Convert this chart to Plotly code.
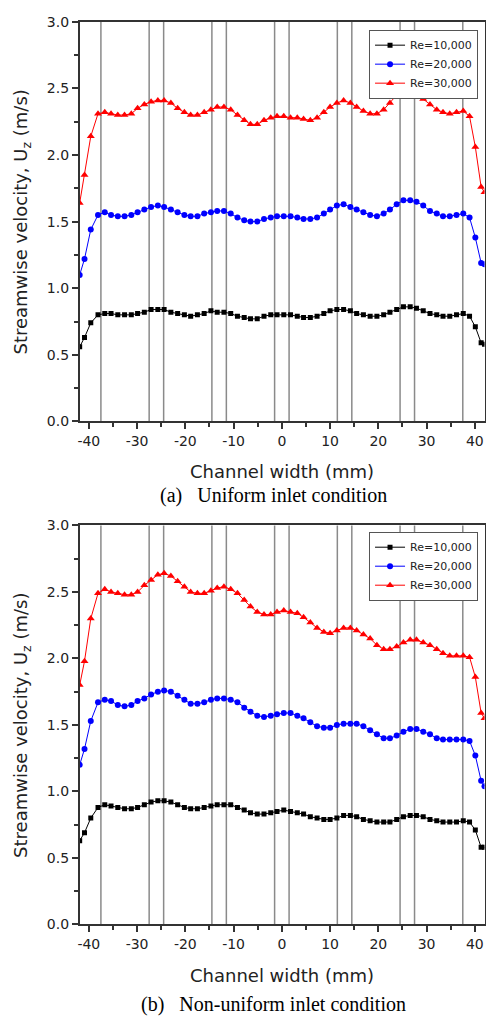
import plotly.graph_objects as go

# ---------------- data ----------------
x_mm = [-41.9, -40.9, -39.6,
        -38.1, -36.7, -35.4, -34.0, -32.6, -31.2, -29.9, -28.5, -27.1, -25.7,
        -24.4, -23.0, -21.6, -20.2, -18.9, -17.5, -16.1, -14.7, -13.4, -12.0,
        -10.6, -9.2, -7.8, -6.5, -5.1, -3.7, -2.3, -1.0, 0.4, 1.8,
        3.2, 4.5, 5.9, 7.3, 8.7, 10.0, 11.4, 12.8, 14.2, 15.5,
        16.9, 18.3, 19.7, 21.1, 22.4, 23.8, 25.2, 26.6, 27.9, 29.3,
        30.7, 32.1, 33.4, 34.8, 36.2, 37.6, 38.9,
        40.1, 41.3, 42.0]

# (a) uniform inlet
uni_re10k = [0.56, 0.63, 0.74,
             0.80, 0.81, 0.81, 0.80, 0.80, 0.80, 0.81, 0.82, 0.84, 0.84,
             0.84, 0.82, 0.81, 0.80, 0.79, 0.80, 0.81, 0.83, 0.82, 0.82,
             0.81, 0.79, 0.78, 0.77, 0.77, 0.79, 0.80, 0.80, 0.80, 0.80,
             0.79, 0.78, 0.78, 0.79, 0.81, 0.83, 0.84, 0.84, 0.83, 0.81,
             0.80, 0.79, 0.79, 0.80, 0.82, 0.84, 0.86, 0.86, 0.85, 0.83,
             0.81, 0.80, 0.79, 0.79, 0.80, 0.81, 0.79,
             0.71, 0.59, 0.58]
uni_re20k = [1.10, 1.22, 1.44,
             1.55, 1.57, 1.55, 1.54, 1.54, 1.55, 1.57, 1.59, 1.61, 1.62,
             1.61, 1.59, 1.57, 1.55, 1.54, 1.54, 1.56, 1.57, 1.58, 1.58,
             1.56, 1.53, 1.51, 1.50, 1.50, 1.52, 1.53, 1.54, 1.54, 1.54,
             1.53, 1.52, 1.52, 1.53, 1.56, 1.59, 1.62, 1.63, 1.61, 1.59,
             1.57, 1.55, 1.54, 1.56, 1.59, 1.63, 1.66, 1.66, 1.65, 1.62,
             1.58, 1.56, 1.54, 1.54, 1.55, 1.56, 1.53,
             1.38, 1.19, 1.18]
uni_re30k = [1.64, 1.85, 2.14,
             2.31, 2.32, 2.31, 2.30, 2.30, 2.31, 2.35, 2.38, 2.40, 2.41,
             2.41, 2.39, 2.35, 2.32, 2.30, 2.30, 2.32, 2.34, 2.36, 2.36,
             2.34, 2.30, 2.26, 2.23, 2.23, 2.26, 2.28, 2.29, 2.29, 2.28,
             2.28, 2.27, 2.26, 2.28, 2.32, 2.36, 2.39, 2.41, 2.39, 2.36,
             2.33, 2.31, 2.31, 2.34, 2.39, 2.45, 2.48, 2.49, 2.47, 2.42,
             2.38, 2.34, 2.32, 2.31, 2.32, 2.33, 2.29,
             2.06, 1.76, 1.72]

# (b) non-uniform inlet
non_re10k = [0.63, 0.69, 0.80,
             0.88, 0.90, 0.89, 0.88, 0.87, 0.87, 0.88, 0.90, 0.92, 0.93,
             0.93, 0.92, 0.90, 0.88, 0.87, 0.87, 0.88, 0.89, 0.90, 0.90,
             0.90, 0.88, 0.86, 0.84, 0.83, 0.83, 0.84, 0.85, 0.86, 0.85,
             0.84, 0.83, 0.81, 0.80, 0.79, 0.79, 0.80, 0.82, 0.82, 0.81,
             0.79, 0.78, 0.77, 0.77, 0.77, 0.79, 0.81, 0.82, 0.82, 0.81,
             0.79, 0.78, 0.77, 0.77, 0.77, 0.78, 0.77,
             0.71, 0.58, 0.58]
non_re20k = [1.20, 1.32, 1.53,
             1.67, 1.69, 1.68, 1.65, 1.64, 1.65, 1.68, 1.70, 1.73, 1.75,
             1.76, 1.75, 1.72, 1.69, 1.66, 1.66, 1.67, 1.69, 1.70, 1.70,
             1.69, 1.67, 1.63, 1.60, 1.57, 1.56, 1.57, 1.58, 1.59, 1.59,
             1.57, 1.55, 1.52, 1.49, 1.48, 1.48, 1.50, 1.51, 1.51, 1.51,
             1.49, 1.46, 1.43, 1.40, 1.40, 1.42, 1.45, 1.47, 1.47, 1.45,
             1.43, 1.40, 1.39, 1.39, 1.39, 1.39, 1.38,
             1.27, 1.08, 1.04]
non_re30k = [1.80, 1.98, 2.30,
             2.49, 2.52, 2.50, 2.49, 2.48, 2.48, 2.50, 2.55, 2.59, 2.63,
             2.64, 2.62, 2.58, 2.54, 2.50, 2.49, 2.49, 2.51, 2.53, 2.54,
             2.52, 2.49, 2.44, 2.39, 2.35, 2.33, 2.33, 2.35, 2.36, 2.35,
             2.34, 2.31, 2.27, 2.23, 2.20, 2.19, 2.21, 2.23, 2.23, 2.21,
             2.18, 2.15, 2.10, 2.07, 2.07, 2.09, 2.12, 2.14, 2.14, 2.12,
             2.10, 2.07, 2.04, 2.02, 2.02, 2.02, 2.01,
             1.86, 1.59, 1.55]

series_names = ["Re=10,000", "Re=20,000", "Re=30,000"]
wall_lines_mm = [-37.5, -27.5, -24.5, -14.5, -11.5, -1.5, 1.5, 11.5, 14.5, 24.5, 27.5, 37.5]

x_tick_vals = [-40, -30, -20, -10, 0, 10, 20, 30, 40]
x_tick_text = ["-40", "-30", "-20", "-10", "0", "10", "20", "30", "40"]
x_minor_vals = [-35, -25, -15, -5, 5, 15, 25, 35]
y_tick_vals = [0.0, 0.5, 1.0, 1.5, 2.0, 2.5, 3.0]
y_tick_text = ["0.0", "0.5", "1.0", "1.5", "2.0", "2.5", "3.0"]
y_minor_vals = [0.25, 0.75, 1.25, 1.75, 2.25, 2.75]

captions = ["(a)\u00a0\u00a0\u00a0Uniform inlet condition",
            "(b)\u00a0\u00a0\u00a0Non-uniform inlet condition"]

# ---------------- styling ----------------
W, H = 486, 1025
styles = [dict(color="#000000", symbol="square", size=5),
          dict(color="#0000ff", symbol="circle", size=6),
          dict(color="#ff0000", symbol="triangle-up", size=7)]
FONT = "DejaVu Sans"
AX = "#333333"

def px_x(p):
    return p / W

def px_y(p):
    return 1 - p / H

panels = [
    dict(data=[uni_re10k, uni_re20k, uni_re30k], xa="x", ya="y", leg="legend",
         ydom=[px_y(420), px_y(14)], legtop=22, cap_y=495, xt_y=471),
    dict(data=[non_re10k, non_re20k, non_re30k], xa="x2", ya="y2", leg="legend2",
         ydom=[px_y(931), px_y(525.7)], legtop=532, cap_y=1012, xt_y=983),
]

fig = go.Figure()
annotations = []
shapes = []
layout_axes = {}
for k, p in enumerate(panels):
    for name, ys, st in zip(series_names, p["data"], styles):
        fig.add_trace(go.Scatter(
            x=x_mm, y=ys, name=name, mode="lines+markers",
            xaxis=p["xa"], yaxis=p["ya"], legend=p["leg"],
            line=dict(color=st["color"], width=1),
            marker=dict(color=st["color"], symbol=st["symbol"], size=st["size"]),
        ))
    sfx = "" if k == 0 else "2"
    layout_axes["xaxis" + sfx] = dict(
        domain=[px_x(78), px_x(484.5)], range=[-41.9, 42.0], anchor=p["ya"],
        tickmode="array", tickvals=x_tick_vals, ticktext=x_tick_text,
        ticks="outside", ticklen=6, tickwidth=1.5, tickcolor=AX,
        minor=dict(tickmode="array", tickvals=x_minor_vals, ticks="outside",
                   ticklen=3.5, tickwidth=1.5, tickcolor=AX),
        showline=True, linecolor=AX, linewidth=1.5, mirror=True,
        showgrid=False, zeroline=False,
        tickfont=dict(family=FONT, size=14, color="#222222"),
    )
    layout_axes["yaxis" + sfx] = dict(
        domain=p["ydom"], range=[0, 3.0], anchor=p["xa"],
        tickmode="array", tickvals=y_tick_vals, ticktext=y_tick_text,
        ticks="outside", ticklen=6, tickwidth=1.5, tickcolor=AX,
        minor=dict(tickmode="array", tickvals=y_minor_vals, ticks="outside",
                   ticklen=3.5, tickwidth=1.5, tickcolor=AX),
        showline=True, linecolor=AX, linewidth=1.5, mirror=True,
        showgrid=False, zeroline=False,
        tickfont=dict(family=FONT, size=14, color="#222222"),
    )
    layout_axes[p["leg"]] = dict(
        x=px_x(478), y=px_y(p["legtop"]), xanchor="right", yanchor="top",
        bgcolor="white", bordercolor="#555555", borderwidth=1,
        font=dict(family=FONT, size=11, color="#222222"),
        tracegroupgap=0, itemwidth=30,
    )
    for xv in wall_lines_mm:
        shapes.append(dict(type="line", xref=p["xa"], yref=p["ya"] + " domain",
                           x0=xv, x1=xv, y0=0, y1=1, layer="below",
                           line=dict(color="#8a8a8a", width=1.5)))
    ymid = (p["ydom"][0] + p["ydom"][1]) / 2
    annotations.append(dict(text="Streamwise velocity, U<sub>z</sub> (m/s)",
                            xref="paper", yref="paper", x=px_x(20), y=ymid,
                            textangle=-90, showarrow=False,
                            xanchor="center", yanchor="middle",
                            font=dict(family=FONT, size=18, color="#222222")))
    annotations.append(dict(text="Channel width (mm)", xref="paper", yref="paper",
                            x=px_x(281.5), y=px_y(p["xt_y"]), showarrow=False,
                            xanchor="center", yanchor="middle",
                            font=dict(family=FONT, size=18, color="#222222")))
    annotations.append(dict(text=captions[k], xref="paper", yref="paper",
                            x=px_x(273), y=px_y(p["cap_y"]), showarrow=False,
                            xanchor="center", yanchor="middle",
                            font=dict(family="Liberation Serif", size=20, color="#000000")))

fig.update_layout(
    width=W, height=H, margin=dict(l=0, r=0, t=0, b=0),
    paper_bgcolor="white", plot_bgcolor="white",
    showlegend=True, annotations=annotations, shapes=shapes,
    **layout_axes,
)
fig.write_html("out.html")
